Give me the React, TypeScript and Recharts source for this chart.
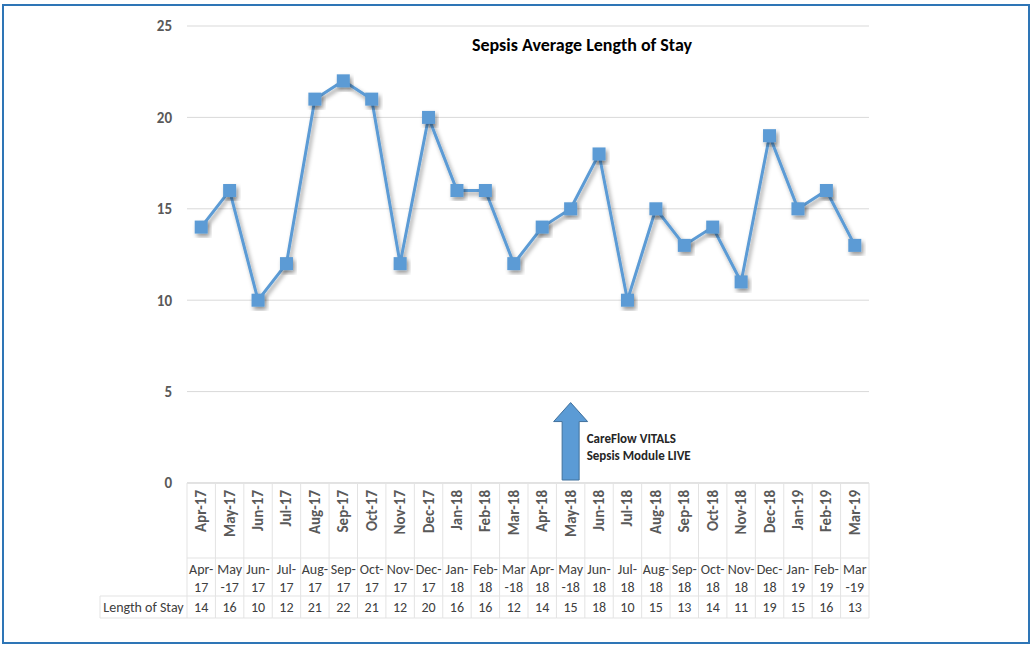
import { CartesianGrid, Line, LineChart, ReferenceLine, XAxis, YAxis } from "recharts";

const months = [
  "Apr-17", "May-17", "Jun-17", "Jul-17", "Aug-17", "Sep-17", "Oct-17", "Nov-17",
  "Dec-17", "Jan-18", "Feb-18", "Mar-18", "Apr-18", "May-18", "Jun-18", "Jul-18",
  "Aug-18", "Sep-18", "Oct-18", "Nov-18", "Dec-18", "Jan-19", "Feb-19", "Mar-19",
];
const lengthOfStay = [14, 16, 10, 12, 21, 22, 21, 12, 20, 16, 16, 12, 14, 15, 18, 10, 15, 13, 14, 11, 19, 15, 16, 13];
const yTicks = [0, 5, 10, 15, 20, 25];
const goLiveMonth = "May-18";
const arrowTopValue = 4.4;
const annotation = ["CareFlow VITALS", "Sepsis Module LIVE"];
const title = "Sepsis Average Length of Stay";
const rowLabel = "Length of Stay";

const data = months.map((month, i) => ({ month, los: lengthOfStay[i] }));

// Excel wraps the data-table headers: "May"/"Mar" are too wide to keep the dash
const headerLines = (m: string) => {
  const [mon, yr] = m.split("-");
  return mon === "May" || mon === "Mar" ? [mon, "-" + yr] : [mon + "-", yr];
};

const FONT = "Carlito, Calibri, Lato, sans-serif";
const BLUE = "#5b9bd5";
const GRID = "#d9d9d9";
const CELL = "#e3e3e3";
const W = 1032;
const H = 648;
const LEFT = 187;
const RIGHT = 869;
const BAND = (RIGHT - LEFT) / months.length;

const TableTick = (props: any) => {
  const { x, payload, index } = props;
  const top = 483;
  const hdrTop = 558;
  const valTop = 596;
  const bottom = 618;
  const l = x - BAND / 2;
  const r = x + BAND / 2;
  const last = index === months.length - 1;
  const [h1, h2] = headerLines(payload.value);
  return (
    <g>
      <line x1={l} y1={top} x2={l} y2={bottom} stroke={CELL} />
      {last && <line x1={r} y1={top} x2={r} y2={bottom} stroke={CELL} />}
      <line x1={l} y1={hdrTop} x2={r} y2={hdrTop} stroke={CELL} />
      <line x1={l} y1={valTop} x2={r} y2={valTop} stroke={CELL} />
      <line x1={l} y1={bottom} x2={r} y2={bottom} stroke={CELL} />
      {index === 0 && (
        <g>
          <line x1={100} y1={valTop} x2={l} y2={valTop} stroke={CELL} />
          <line x1={100} y1={bottom} x2={l} y2={bottom} stroke={CELL} />
          <line x1={100} y1={valTop} x2={100} y2={bottom} stroke={CELL} />
          <text x={(100 + l) / 2} y={612} textAnchor="middle" fontSize={14} fill="#404040" fontFamily={FONT}>
            {rowLabel}
          </text>
        </g>
      )}
      <text
        transform={`translate(${x + 5},490) rotate(-90)`}
        textAnchor="end"
        fontSize={15}
        fontWeight="bold"
        fill="#595959"
        fontFamily={FONT}
      >
        {payload.value}
      </text>
      <text x={x} y={574} textAnchor="middle" fontSize={14} fill="#404040" fontFamily={FONT}>
        {h1}
      </text>
      <text x={x} y={592} textAnchor="middle" fontSize={14} fill="#404040" fontFamily={FONT}>
        {h2}
      </text>
      <text x={x} y={612} textAnchor="middle" fontSize={14} fill="#404040" fontFamily={FONT}>
        {lengthOfStay[index]}
      </text>
    </g>
  );
};

const SquareDot = (props: any) => {
  const { cx, cy, index } = props;
  if (cx == null || cy == null) return null;
  return <rect key={index} x={cx - 6.5} y={cy - 6.5} width={13} height={13} fill={BLUE} filter="url(#shadow)" />;
};

const GoLiveArrow = (props: any) => {
  const { x1, y1, y2 } = props;
  const tip = Math.min(y1, y2);
  const base = Math.max(y1, y2) - 3;
  const path = `M${x1 - 8.5},${base} L${x1 - 8.5},${tip + 19} L${x1 - 17},${tip + 19} L${x1},${tip} L${x1 + 17},${tip + 19} L${x1 + 8.5},${tip + 19} L${x1 + 8.5},${base} Z`;
  return (
    <g>
      <path d={path} fill={BLUE} stroke="#41719c" strokeWidth={1} />
      {annotation.map((t, i) => (
        <text key={t} x={x1 + 16} y={base - 37 + i * 17} fontSize={13} fontWeight="bold" fill="#262626" fontFamily={FONT}>
          {t}
        </text>
      ))}
    </g>
  );
};

export default function App() {
  return (
    <div style={{ position: "absolute", left: 0, top: 0, width: W, height: H, background: "#fff" }}>
      <div
        style={{
          position: "absolute",
          left: 2,
          top: 4,
          width: 1024,
          height: 636,
          border: "2px solid #2e75b6",
        }}
      />
      <div
        style={{
          position: "absolute",
          left: 382,
          top: 34,
          width: 400,
          textAlign: "center",
          fontFamily: FONT,
          fontWeight: "bold",
          fontSize: 18,
          color: "#000",
        }}
      >
        {title}
      </div>
      <div style={{ position: "absolute", left: 0, top: 0 }}>
        <LineChart width={W} height={H} data={data} margin={{ top: 26, right: W - RIGHT, bottom: 95, left: LEFT - 40 }}>
          <defs>
            <filter id="shadow" x="-30%" y="-30%" width="160%" height="160%">
              <feDropShadow dx="2" dy="3" stdDeviation="2" floodColor="#000" floodOpacity="0.4" />
            </filter>
          </defs>
          <CartesianGrid vertical={false} stroke={GRID} />
          <XAxis
            dataKey="month"
            height={70}
            padding={{ left: BAND / 2, right: BAND / 2 }}
            tickLine={false}
            tickSize={0}
            stroke={GRID}
            interval={0}
            tick={<TableTick />}
          />
          <YAxis
            width={40}
            domain={[0, 25]}
            ticks={yTicks}
            axisLine={false}
            tickLine={false}
            tickSize={0}
            tickMargin={15}
            tick={{ fontSize: 15, fontWeight: "bold", fill: "#595959", fontFamily: FONT }}
          />
          <ReferenceLine
            segment={[
              { x: goLiveMonth, y: 0 },
              { x: goLiveMonth, y: arrowTopValue },
            ]}
            shape={<GoLiveArrow />}
          />
          <Line
            dataKey="los"
            stroke={BLUE}
            strokeWidth={3}
            filter="url(#shadow)"
            dot={<SquareDot />}
            activeDot={false}
            isAnimationActive={false}
          />
        </LineChart>
      </div>
    </div>
  );
}
